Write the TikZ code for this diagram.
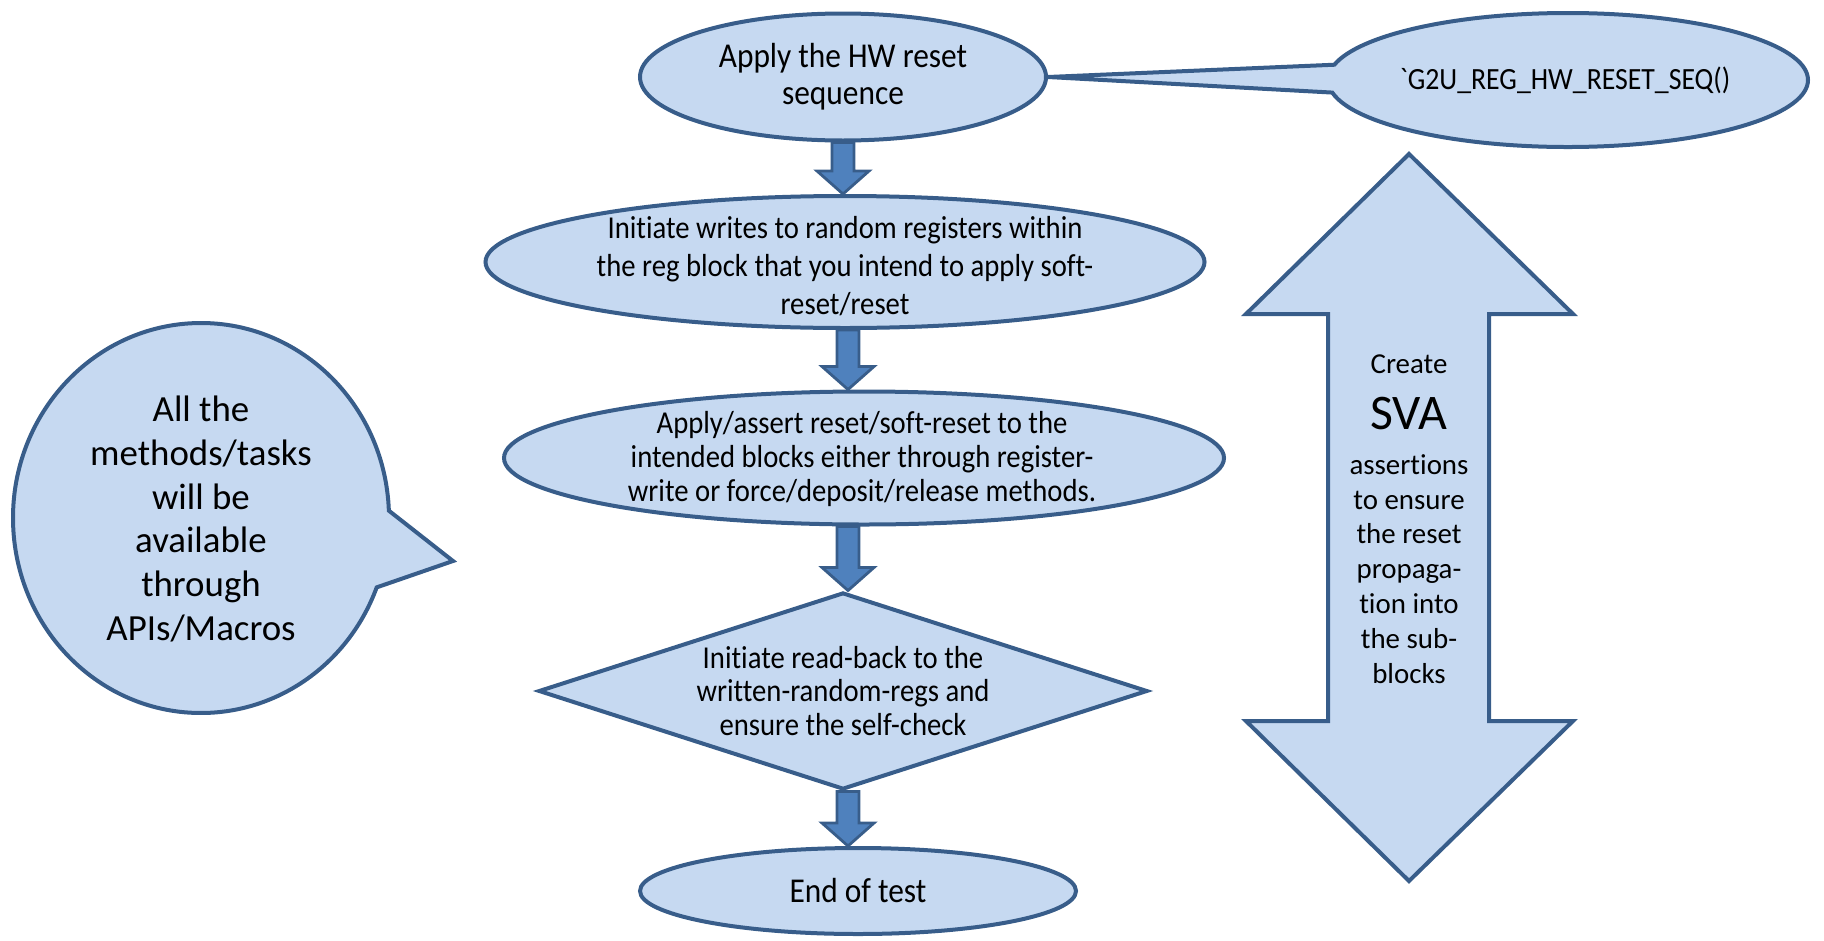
\documentclass[tikz,border=0pt]{standalone}
\usepackage{fontspec}
\setmainfont{Carlito}[Ligatures={NoCommon}]
\newfontfamily\condfont[FakeStretch=0.9,Ligatures={NoCommon}]{Carlito}
\usetikzlibrary{shapes.geometric,shapes.callouts,calc}
\definecolor{fillblue}{HTML}{C6D9F1}
\definecolor{lineblue}{HTML}{385D8A}
\definecolor{arrowblue}{HTML}{4F81BD}
\newcommand\blockarrow[2]{%
  \draw[smallarrow] let \p1=(#1), \p2=(#2) in
    (\x1-11bp,\y1) -- (\x1+11bp,\y1) -- (\x1+11bp,\y2+23bp) -- (\x1+26bp,\y2+23bp)
    -- (\x1,\y2) -- (\x1-26bp,\y2+23bp) -- (\x1-11bp,\y2+23bp) -- cycle;}
\begin{document}
\begin{tikzpicture}[x=1bp,y=-1bp,
  shapestyle/.style={draw=lineblue, fill=fillblue, line width=4bp},
  ellnode/.style={shapestyle, ellipse, inner sep=0pt},
  flowtext/.style={font=\condfont\fontsize{32}{38}\selectfont, align=center, inner sep=0pt},
  smallarrow/.style={draw=lineblue, fill=arrowblue, line width=2.8bp, line join=miter},
]
\useasboundingbox (0,0) rectangle (1824,940);

% flow shapes
\node[ellnode, minimum width=406bp, minimum height=127bp] (e1) at (843,77) {};
\node[ellipse callout, shapestyle, minimum width=480bp, minimum height=134bp,
      callout absolute pointer={(e1.east)}, callout pointer arc=24] (g2u) at (1568,80) {};
\node[ellnode, minimum width=719bp, minimum height=132bp] (e2) at (845,262) {};
\node[ellnode, minimum width=720bp, minimum height=133bp] (e3) at (864,458) {};
\node[diamond, shapestyle, inner sep=0pt, aspect=3, minimum width=609bp, minimum height=197bp] (dia) at (843,691) {};
\node[ellnode, minimum width=436bp, minimum height=86bp] (end) at (858,891) {};

% texts
\node[flowtext, font=\condfont\fontsize{35}{37}\selectfont] (t1) at (e1.center) {Apply the HW reset\\sequence};
\node[flowtext, font=\condfont\fontsize{31}{37}\selectfont] (tg) at (1565,80) {`G2U\_REG\_HW\_RESET\_SEQ()};
\node[flowtext] (t2) at (845,266) {Initiate writes to random registers within\\the reg block that you intend to apply soft-\\reset/reset};
\node[flowtext, font=\condfont\fontsize{32}{34}\selectfont] (t3) at (862,459) {Apply/assert reset/soft-reset to the\\intended blocks either through register-\\write or force/deposit/release methods.};
\node[flowtext, font=\condfont\fontsize{32}{34}\selectfont] (t4) at (dia.center) {Initiate read-back to the\\written-random-regs and\\ensure the self-check};
\node[flowtext, font=\condfont\fontsize{35}{38}\selectfont] (t5) at (end.center) {End of test};

% block arrows
\coordinate (ax) at (848,0);
\blockarrow{e1.south}{e2.north}
\blockarrow{e2.south -| ax}{e3.north -| ax}
\blockarrow{e3.south -| ax}{dia.north -| ax}
\blockarrow{dia.south -| ax}{end.north -| ax}

% left speech bubble
\node[ellipse callout, shapestyle, minimum width=376bp, minimum height=390bp,
      callout absolute pointer={(453,561)}, callout pointer arc=23] (bub) at (201,518) {};
\node[align=center, inner sep=0pt, font=\fontsize{37}{44}\selectfont] (bubt) at (201,519)
  {All the\\methods/tasks\\will be\\available\\through\\APIs/Macros};

% big double arrow
\draw[shapestyle, line join=miter] (1409,154) -- (1573,314) -- (1489,314) -- (1489,721)
  -- (1573,721) -- (1409,881) -- (1246,721) -- (1328,721) -- (1328,314) -- (1246,314) -- cycle;
\coordinate (dac) at (1409,517);
\node[inner sep=0pt, font=\fontsize{29}{35}\selectfont] (cr) at (1409,364) {Create};
\node[inner sep=0pt, font=\fontsize{50}{50}\selectfont] (sva) at (1409,414) {SVA};
\node[align=center, inner sep=0pt, font=\fontsize{29}{35}\selectfont] (svat) at (1409,569)
  {assertions\\to ensure\\the reset\\propaga-\\tion into\\the sub-\\blocks};
\end{tikzpicture}
\end{document}
